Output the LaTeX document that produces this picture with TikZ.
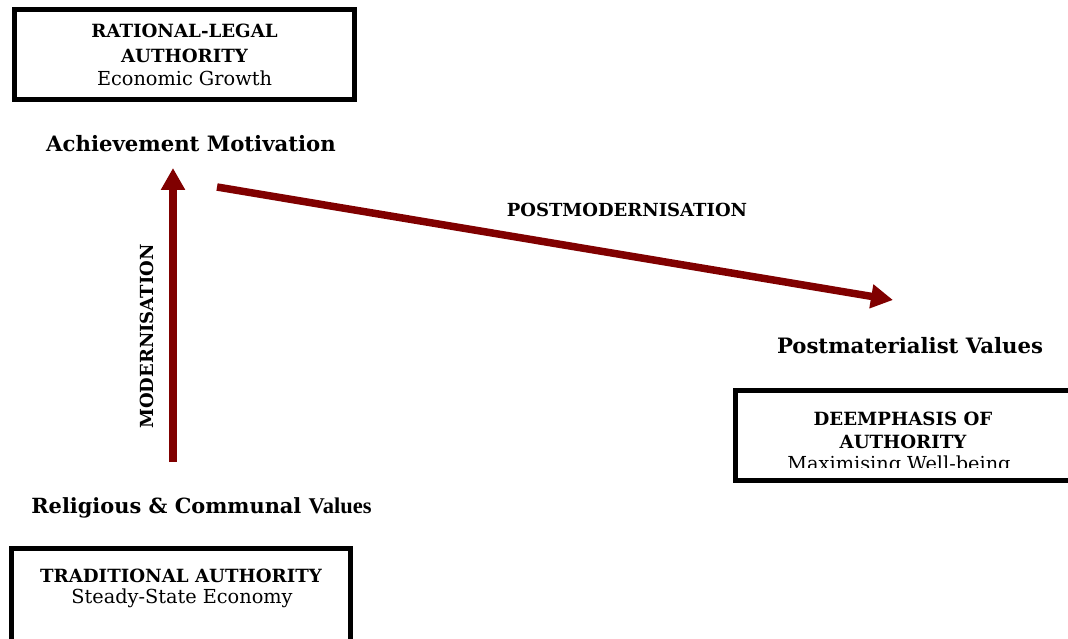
\documentclass[tikz,border=0pt]{standalone}
\usepackage{fontspec}
\setmainfont{DejaVu Serif}
\newfontfamily\narrowbold{Liberation Serif}
\usetikzlibrary{arrows.meta}
\definecolor{arrowred}{HTML}{800000}
\begin{document}
\begin{tikzpicture}[x=1pt,y=-1pt,
  framebox/.style={draw, line width=5pt, inner sep=0pt, outer sep=0pt},
  txt/.style={anchor=base, inner sep=0pt, outer sep=0pt},
  boxhead/.style={txt, font=\bfseries\fontsize{18.2}{21}\selectfont},
  boxsub/.style={txt, font=\fontsize{19.3}{22}\selectfont},
  stage/.style={txt, font=\bfseries\fontsize{21.2}{24}\selectfont},
  process/.style={txt, font=\bfseries\fontsize{18}{21}\selectfont},
  trendarrow/.style={draw=arrowred, line width=7.5pt, -{Triangle[length=22pt,width=23pt]}}]
\useasboundingbox (0,0) rectangle (1068,639);

% rational-legal box
\node[framebox, minimum width=340pt, minimum height=90pt] (rlbox) at (184.5,54.5) {};
\node[boxhead] (rl1) at (184.5,38) {RATIONAL-LEGAL};
\node[boxhead] (rl2) at (184.5,63) {AUTHORITY};
\node[boxsub]  (rl3) at (184.5,86) {Economic Growth};
\node[stage] (achieve) at (191,152) {Achievement Motivation};

% traditional box
\node[framebox, minimum width=339pt, minimum height=112pt] (trbox) at (181,604.5) {};
\node[boxhead] (tr1) at (181,582) {TRADITIONAL AUTHORITY};
\node[boxsub]  (tr2) at (182,603) {Steady-State Economy};
\node[stage, font=\bfseries\fontsize{20.9}{24}\selectfont] (relig) at (201.5,513) {Religious \& Communal {\narrowbold\fontsize{22.5}{24}\selectfont Values}};

% deemphasis box
\node[framebox, minimum width=355pt, minimum height=90pt] (debox) at (913,435.5) {};
\node[boxhead] (de1) at (903,425) {DEEMPHASIS OF};
\node[boxhead] (de2) at (903,448) {AUTHORITY};
\begin{scope}
  \clip (740,450) rectangle (1068,467.5);
  \node[boxsub] (de3) at (899,470) {Maximising Well-being};
\end{scope}
\node[stage] (postmat) at (910,353) {Postmaterialist Values};

% process arrows
\coordinate (modTail) at (173,462);
\coordinate (modTip) at (173,168);
\coordinate (pmTail) at (217,187);
\coordinate (pmTip) at (893,300);
\draw[trendarrow] (modTail) -- (modTip);
\draw[trendarrow] (pmTail) -- (pmTip);
\node[process, rotate=90] (modlabel) at (153,336.5) {MODERNISATION};
\node[process] (pmlabel) at (627,217) {POSTMODERNISATION};
\end{tikzpicture}
\end{document}
